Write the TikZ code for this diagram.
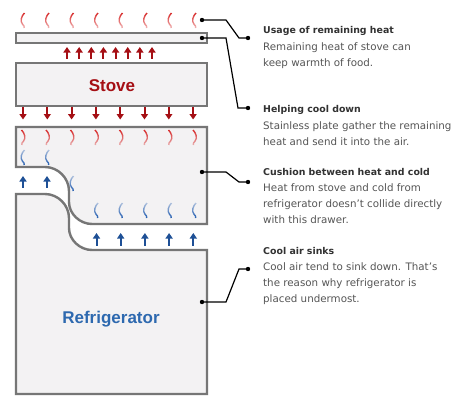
\documentclass[tikz,border=0pt]{standalone}
\usepackage{fontspec}
\setmainfont{DejaVu Sans}
\newfontfamily\arialfont{Liberation Sans}
\usetikzlibrary{arrows.meta,fadings}
\definecolor{boxline}{RGB}{118,118,118}
\definecolor{boxfill}{RGB}{243,242,243}
\definecolor{hotred}{RGB}{165,15,20}
\definecolor{waver}{RGB}{215,40,40}
\definecolor{waveb}{RGB}{30,90,175}
\definecolor{coldblue}{RGB}{30,80,150}
\definecolor{fridgeblue}{RGB}{45,105,175}
\definecolor{bodygray}{RGB}{85,85,85}
\definecolor{titlegray}{RGB}{50,50,50}
\tikzfading[name=fadedown, top color=transparent!0, bottom color=transparent!70]
\tikzfading[name=fadeup, top color=transparent!70, bottom color=transparent!0]
\tikzset{
  boxst/.style={draw=boxline, fill=boxfill, line width=2.4pt},
  harr/.style={hotred, line width=2pt, -{Triangle[width=7pt,length=5.5pt]}},
  carr/.style={coldblue, line width=2pt, -{Triangle[width=7pt,length=5.5pt]}},
  callout/.style={black, line width=1.2pt},
  dotst/.style={circle, fill=black, inner sep=0pt, minimum size=4.4pt},
  ttl/.style={anchor=base west, inner sep=0pt, font=\bfseries\fontsize{9.4}{11}\selectfont, text=titlegray},
  bdy/.style={anchor=base west, inner sep=0pt, font=\fontsize{10.3}{12}\selectfont, text=bodygray},
  bigl/.style={anchor=base, inner sep=0pt, font=\arialfont\bfseries\fontsize{17}{20}\selectfont},
  pics/wavy/.style={code={
    \draw[line width=1.4pt, #1]
      (1.5,0) .. controls (-1.5,3) and (-3.2,8) .. (-0.6,11)
      .. controls (0.8,12.5) and (1.6,13.5) .. (1.2,15);
  }},
}
\begin{document}
\begin{tikzpicture}[x=1pt,y=-1pt]
\useasboundingbox[fill=white] (0,0) rectangle (463,410);

% boxes
\node[boxst, minimum width=191pt, minimum height=10pt, inner sep=0pt] (plate) at (111.5,38) {};
\node[boxst, minimum width=191pt, minimum height=43pt, inner sep=0pt] (stove) at (111.5,84.5) {};
\node[bigl, text=hotred] (stovelbl) at (112,91.7) {Stove};

\draw[boxst] (16,127) -- (207,127) -- (207,224) -- (92,224)
  .. controls (80,224) and (69,214) .. (69,202) -- (69,191)
  .. controls (69,178) and (58,167) .. (45,167) -- (16,167) -- cycle;
\draw[boxst] (16,194) -- (45,194)
  .. controls (58,194) and (69,205) .. (69,218) -- (69,228)
  .. controls (69,240) and (80,250) .. (92,250) -- (207,250) -- (207,394) -- (16,394) -- cycle;
\node[bigl, text=fridgeblue] (fridgelbl) at (111,323.3) {Refrigerator};

% heat waves above plate
\foreach \i in {0,...,7}{
  \pic at ({23+24.5*\i},13) {wavy={waver, path fading=fadedown}};
}
% red up arrows
\foreach \i in {0,...,7}{
  \draw[harr] ({67+12.14*\i},58.5) -- ({67+12.14*\i},47);
}
% red down arrows
\foreach \i in {0,...,7}{
  \draw[harr] ({23+24.3*\i},107) -- ({23+24.3*\i},119.5);
}
% red waves in drawer
\foreach \i in {0,...,7}{
  \pic[xscale=-1] at ({23+24.5*\i},130) {wavy={waver, path fading=fadedown}};
}
% blue waves in drawer
\foreach \x in {23,47.5}{
  \pic at (\x,150) {wavy={waveb, path fading=fadeup}};
}
\pic at (72,176) {wavy={waveb, path fading=fadeup}};
\foreach \i in {0,...,4}{
  \pic at ({96.5+24.5*\i},203) {wavy={waveb, path fading=fadeup}};
}
% blue up arrows
\foreach \x in {23,47}{
  \draw[carr] (\x,187.5) -- (\x,176);
}
\foreach \i in {0,...,4}{
  \draw[carr] ({96.5+24.2*\i},245.5) -- ({96.5+24.2*\i},233);
}

% callouts
\node[dotst] (a1) at (202,20) {};
\node[dotst] (b1) at (248,38) {};
\node[dotst] (a2) at (202,38) {};
\node[dotst] (b2) at (248,108) {};
\node[dotst] (a3) at (202,172) {};
\node[dotst] (b3) at (248,182) {};
\node[dotst] (a4) at (202,302) {};
\node[dotst] (b4) at (248,269) {};
\draw[callout] (a1.center) -- (226,20) -- (239,38) -- (b1.center);
\draw[callout] (a2.center) -- (226,38) -- (238,108) -- (b2.center);
\draw[callout] (a3.center) -- (226,172) -- (239,182) -- (b3.center);
\draw[callout] (a4.center) -- (226,302) -- (239,269) -- (b4.center);

% texts
\node[ttl] (t1) at (263,33.5) {Usage of remaining heat};
\node[bdy] (t1a) at (263,50) {Remaining heat of stove can};
\node[bdy] (t1b) at (263,66) {keep warmth of food.};

\node[ttl] (t2) at (263,112.5) {Helping cool down};
\node[bdy] (t2a) at (263,129.3) {Stainless plate gather the remaining};
\node[bdy] (t2b) at (263,145.3) {heat and send it into the air.};

\node[ttl] (t3) at (263,175.7) {Cushion between heat and cold};
\node[bdy] (t3a) at (263,191.7) {Heat from stove and cold from};
\node[bdy] (t3b) at (263,207.5) {refrigerator doesn’t collide directly};
\node[bdy] (t3c) at (263,223.3) {with this drawer.};

\node[ttl] (t4) at (263,254.3) {Cool air sinks};
\node[bdy] (t4a) at (263,270) {Cool air tend to sink down. That’s};
\node[bdy] (t4b) at (263,286) {the reason why refrigerator is};
\node[bdy] (t4c) at (263,302) {placed undermost.};
\end{tikzpicture}
\end{document}
